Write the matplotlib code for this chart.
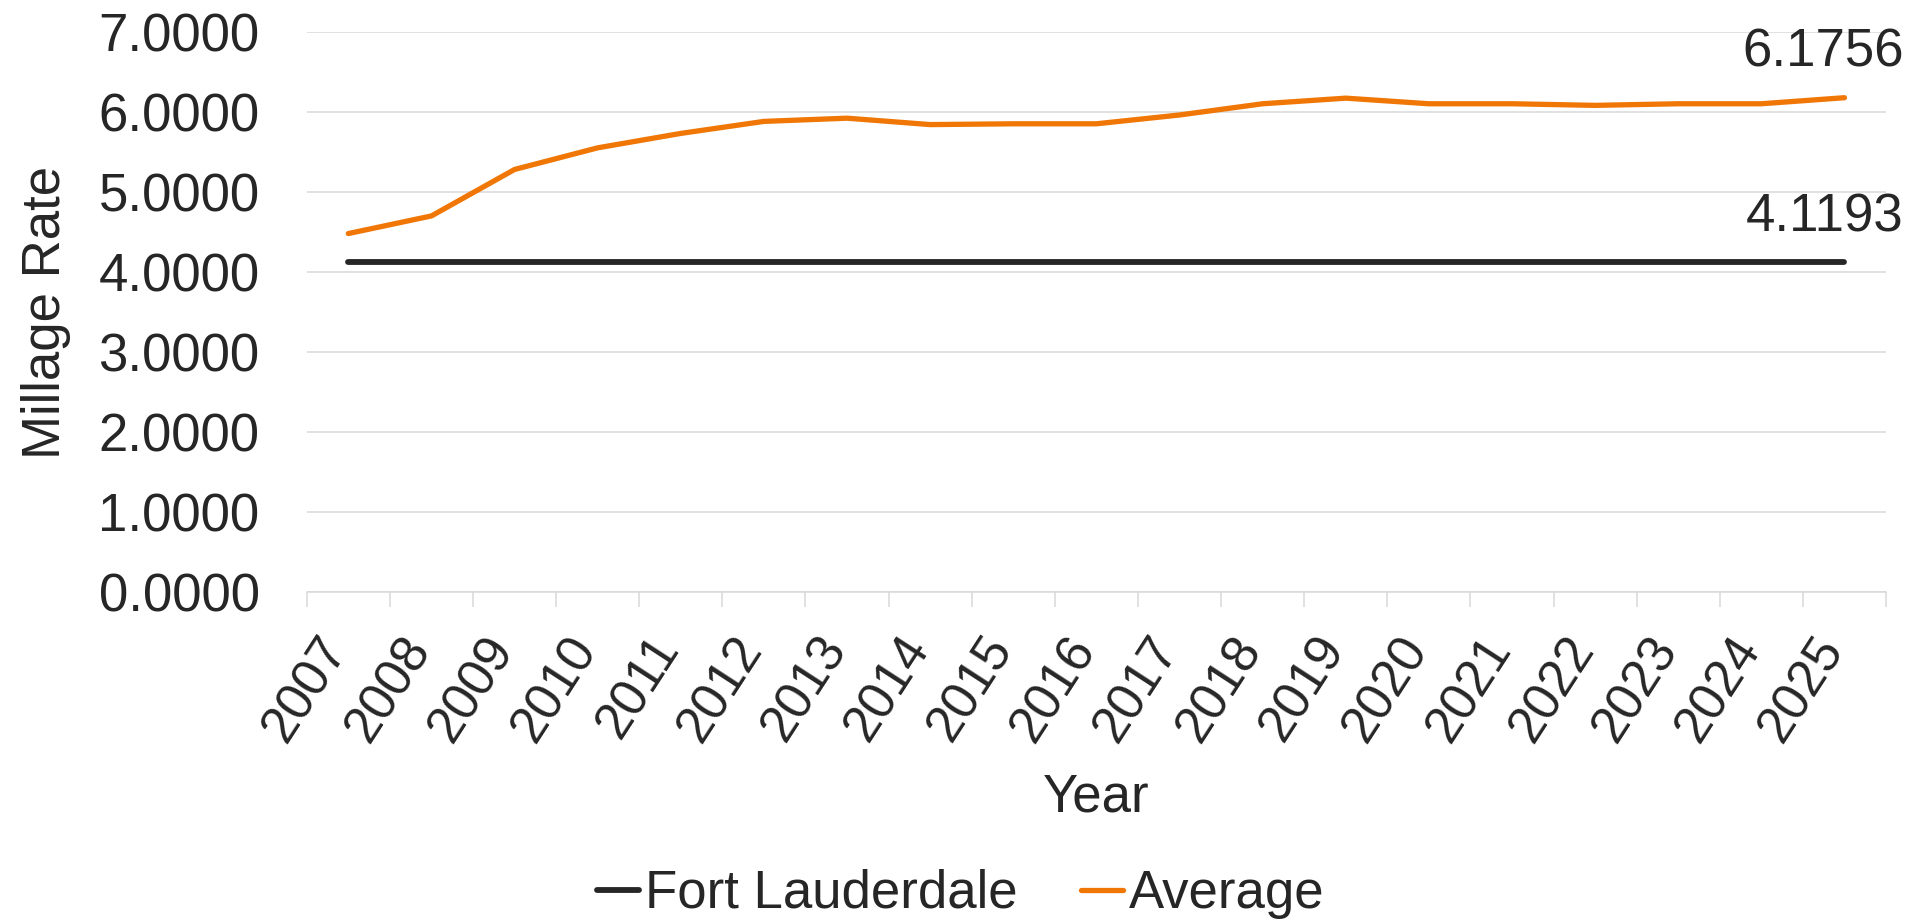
import matplotlib
matplotlib.use("Agg")
import matplotlib.pyplot as plt
import matplotlib.transforms as mtransforms
import numpy as np

years = ['2007', '2008', '2009', '2010', '2011', '2012', '2013', '2014', '2015', '2016',
         '2017', '2018', '2019', '2020', '2021', '2022', '2023', '2024', '2025']
fort_lauderdale = [4.1193] * len(years)
average = [4.48, 4.70, 5.28, 5.55, 5.73, 5.88, 5.92, 5.84, 5.85, 5.85,
           5.96, 6.10, 6.17, 6.10, 6.10, 6.08, 6.10, 6.10, 6.1756]
y_ticks = [0, 1, 2, 3, 4, 5, 6, 7]

text_col = '#262626'
grid_col = '#d9d9d9'
plt.rcParams['font.family'] = ['Liberation Sans', 'DejaVu Sans']
plt.rcParams['font.size'] = 38
plt.rcParams['text.color'] = text_col

fig = plt.figure(figsize=(19.21, 9.23), dpi=100)
ax = fig.add_axes([0.1597, 0.3581, 0.8221, 0.6076])

x = np.arange(len(years))
ax.plot(x, fort_lauderdale, color='#262626', lw=4.2, solid_capstyle='round', label='Fort Lauderdale', zorder=3)
ax.plot(x, average, color='#F07605', lw=3.8, solid_capstyle='round', label='Average', zorder=3)

ax.set_xlim(-0.5, len(years) - 0.5)
ax.set_ylim(0, 7)

ax.set_yticks(y_ticks)
ax.set_yticklabels(['%.4f' % v for v in y_ticks])
ax.yaxis.grid(True, color=grid_col, lw=1.1)
ax.set_axisbelow(True)

ax.set_xticks(x)
ax.set_xticklabels(years, rotation=57, ha='right', fontsize=37)
ax.set_xticks(np.arange(-0.5, len(years)), minor=True)
ax.tick_params(axis='x', which='major', length=0, pad=21, colors=text_col)
ax.tick_params(axis='x', which='minor', length=11, width=1.1, color=grid_col)
ax.tick_params(axis='y', length=0, pad=34, colors=text_col)

# nudge the rotated year labels a little right and down
shift = mtransforms.ScaledTranslation(0.09, -0.06, fig.dpi_scale_trans)
for lbl in ax.get_xticklabels():
    lbl.set_transform(lbl.get_transform() + shift)

for s in ['top', 'right', 'left']:
    ax.spines[s].set_visible(False)
ax.spines['bottom'].set_color(grid_col)
ax.spines['bottom'].set_linewidth(1.1)

ax.set_xlabel('Year', color=text_col)
ax.xaxis.set_label_coords(0.5, -0.3914)
ax.xaxis.label.set_verticalalignment('baseline')
ax.set_ylabel('Millage Rate', color=text_col)
ax.yaxis.set_label_coords(-0.165, 0.5)
ax.yaxis.label.set_verticalalignment('center')

# end-of-line value labels
ax.annotate('%.4f' % average[-1], (x[-1], average[-1]), xytext=(42.5, 22.3),
            textcoords='offset points', ha='right', va='baseline', color=text_col)
ax.annotate('%.4f' % fort_lauderdale[-1], (x[-1], fort_lauderdale[-1]), xytext=(42.5, 22.3),
            textcoords='offset points', ha='right', va='baseline', color=text_col)

fig.legend(loc='center', bbox_to_anchor=(0.5, 1 - 894 / 923), ncol=2, frameon=False,
           handlelength=0.81, handletextpad=0.1, columnspacing=1.2, borderpad=0)

fig.savefig('out.png', dpi=100)
